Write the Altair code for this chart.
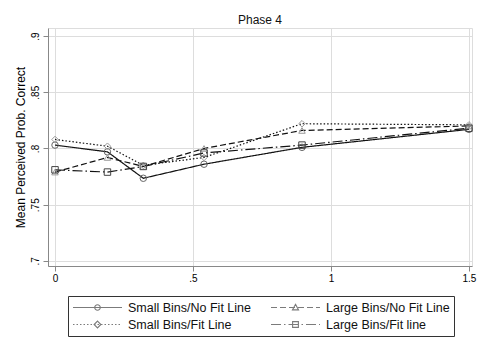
import altair as alt
import pandas as pd

# ---- data ----
x_vals = [0, 0.19, 0.32, 0.54, 0.895, 1.5]
small_nofit = [0.803, 0.797, 0.7735, 0.786, 0.801, 0.817]
small_fit = [0.808, 0.802, 0.785, 0.792, 0.822, 0.821]
large_nofit = [0.779, 0.792, 0.784, 0.800, 0.816, 0.820]
large_fit = [0.781, 0.779, 0.784, 0.796, 0.803, 0.818]

# legend is filled column by column: col 1 = first two, col 2 = last two
series_names = ["Small Bins/No Fit Line", "Small Bins/Fit Line",
                "Large Bins/No Fit Line", "Large Bins/Fit line"]
series_values = [small_nofit, small_fit, large_nofit, large_fit]

x_ticks = [0, 0.5, 1, 1.5]
y_ticks = [0.7, 0.75, 0.8, 0.85, 0.9]

rows = []
for name, vals in zip(series_names, series_values):
    for xv, yv in zip(x_vals, vals):
        rows.append({"series": name, "x": xv, "y": yv})
df = pd.DataFrame(rows)

# ---- styles (same order as series_names) ----
dashes = [[1, 0], [1.5, 2], [6, 3], [10, 3, 1.5, 3]]
shapes = ["circle", "diamond", "triangle-up", "square"]
marker_colors = ["#666666", "#9a9a9a", "#9a9a9a", "#444444"]

HALF = 24.5  # half length of a legend key in px (sqrt(size)/2)


def dash_path(pattern):
    if pattern[1] == 0:
        return "M-1,0L1,0"
    parts = []
    pos = -HALF
    i = 0
    while pos < HALF - 0.01:
        seg = pattern[i % len(pattern)]
        end = min(pos + seg, HALF)
        if i % 2 == 0:
            parts.append(f"M{pos / HALF:.4f},0L{end / HALF:.4f},0")
        pos = end
        i += 1
    return "".join(parts)


def marker_path(kind):
    if kind == "circle":
        r = 2.8 / HALF
        return f"M{-r:.4f},0A{r:.4f},{r:.4f} 0 1 0 {r:.4f},0A{r:.4f},{r:.4f} 0 1 0 {-r:.4f},0Z"
    if kind == "diamond":
        r = 3.4 / HALF
        return f"M0,{-r:.4f}L{r:.4f},0L0,{r:.4f}L{-r:.4f},0Z"
    if kind == "triangle-up":
        r = 3.2 / HALF
        return f"M0,{-r:.4f}L{r*0.95:.4f},{r*0.75:.4f}L{-r*0.95:.4f},{r*0.75:.4f}Z"
    h = 2.9 / HALF
    return f"M{-h:.4f},{-h:.4f}L{h:.4f},{-h:.4f}L{h:.4f},{h:.4f}L{-h:.4f},{h:.4f}Z"


legend_paths = [dash_path(d) + marker_path(s) for d, s in zip(dashes, shapes)]

FONT = "Liberation Sans"
LBL = "datum.value > 0 && datum.value < 1 ? slice(toString(datum.value), 1) : toString(datum.value)"

x_enc = alt.X("x:Q",
              scale=alt.Scale(domain=[-0.0254, 1.511], nice=False, zero=False),
              axis=alt.Axis(values=x_ticks, title=None, tickSize=5, labelPadding=2,
                            labelExpr=LBL))
y_enc = alt.Y("y:Q",
              scale=alt.Scale(domain=[0.6955, 0.9071], nice=False, zero=False),
              axis=alt.Axis(values=y_ticks, title="Mean Perceived Prob. Correct",
                            tickSize=5, labelPadding=3, labelAngle=270,
                            labelAlign="center", labelBaseline="bottom",
                            labelExpr=LBL,
                            titleX=-28, titleY=119, titleAngle=270,
                            titleAlign="center", titleBaseline="middle",
                            titleFontWeight="normal", titleFontSize=12))

lines = alt.Chart(df).mark_line(color="#111111", strokeWidth=1.2).encode(
    x=x_enc, y=y_enc,
    strokeDash=alt.StrokeDash("series:N", scale=alt.Scale(domain=series_names, range=dashes), legend=None),
    order="x:Q",
)

points = alt.Chart(df).mark_point(filled=False, size=42, strokeWidth=1, opacity=1).encode(
    x=x_enc, y=y_enc,
    shape=alt.Shape("series:N", scale=alt.Scale(domain=series_names, range=shapes), legend=None),
    color=alt.Color("series:N", scale=alt.Scale(domain=series_names, range=marker_colors), legend=None),
)

legend_layer = alt.Chart(df).transform_filter("datum.x > 100").mark_point(
    filled=False, color="#444444", strokeWidth=1.1, size=2401).encode(
    x=x_enc, y=y_enc,
    shape=alt.Shape("series:N",
                    scale=alt.Scale(domain=series_names, range=legend_paths),
                    legend=alt.Legend(title=None, orient="none", legendX=20, legendY=268,
                                      columns=2, columnPadding=19, rowPadding=2,
                                      clipHeight=15, symbolSize=2401, labelOffset=5,
                                      padding=4, strokeColor="#333333", fillColor="white",
                                      labelFont=FONT, labelFontSize=12.5, labelColor="#111111",
                                      symbolStrokeColor="#444444", symbolStrokeWidth=1.1,
                                      symbolFillColor="transparent", labelLimit=300)),
)

chart = alt.layer(lines, points, legend_layer).resolve_scale(shape="independent").properties(
    width=424, height=238,
    autosize=alt.AutoSizeParams(type="none"),
    padding={"left": 40, "top": 20, "right": 5, "bottom": 78},
    title=alt.TitleParams("Phase 4", fontSize=12, font=FONT, fontWeight="normal",
                          color="#111111", baseline="alphabetic", offset=5, dy=13,
                          anchor="middle", frame="group"),
).configure_view(stroke="#222222", strokeWidth=1).configure_axis(
    domain=False, grid=False, tickColor="#222222", tickWidth=1,
    labelFont=FONT, labelFontSize=12, labelColor="#111111",
    titleFont=FONT, titleFontSize=12, titleColor="#111111", titleFontWeight="normal",
).configure(background="white")

chart.save("out.html", embed_options={"renderer": "svg", "actions": False})
